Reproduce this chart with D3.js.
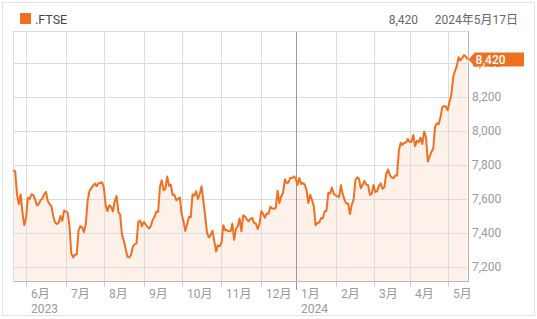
<!DOCTYPE html>
<html><head><meta charset="utf-8">
<script src="https://cdn.jsdelivr.net/npm/d3@7"></script>
<style>
html,body{margin:0;padding:0;background:#fff;}
svg{display:block;font-family:Roboto,"Noto Sans CJK JP",sans-serif;}
</style></head>
<body><svg id="c" width="537" height="319"></svg>
<script>
// Daily closes of .FTSE, one array per month (trading days)
const may23 = [7770, 7763, 7627, 7571, 7627, 7522, 7446];
const jun23 = [7490, 7607, 7600, 7628, 7624, 7599, 7562, 7570, 7594, 7602, 7628, 7643, 7588, 7569, 7559, 7502, 7462, 7453, 7461, 7500, 7472, 7532];
const jul23 = [7527, 7519, 7442, 7280, 7257, 7274, 7274, 7416, 7440, 7434, 7406, 7453, 7588, 7647, 7664, 7679, 7691, 7676, 7693, 7694, 7699];
const aug23 = [7666, 7561, 7529, 7564, 7554, 7527, 7587, 7618, 7524, 7507, 7389, 7357, 7310, 7262, 7257, 7271, 7320, 7333, 7338, 7465, 7474, 7439];
const sep23 = [7465, 7453, 7437, 7426, 7442, 7478, 7496, 7527, 7525, 7673, 7711, 7652, 7660, 7732, 7678, 7684, 7624, 7625, 7593, 7601, 7608];
const oct23 = [7510, 7470, 7412, 7452, 7495, 7492, 7628, 7620, 7645, 7600, 7631, 7675, 7588, 7499, 7402, 7374, 7387, 7414, 7354, 7292, 7328, 7322];
const nov23 = [7342, 7446, 7417, 7418, 7410, 7411, 7455, 7360, 7426, 7440, 7486, 7410, 7504, 7497, 7481, 7469, 7484, 7488, 7460, 7455, 7424, 7453];
const dec23 = [7529, 7513, 7490, 7515, 7514, 7554, 7545, 7543, 7548, 7649, 7576, 7615, 7638, 7716, 7694, 7697, 7725, 7723, 7733];
const jan24 = [7721, 7683, 7724, 7689, 7695, 7684, 7652, 7576, 7625, 7594, 7558, 7446, 7459, 7462, 7488, 7486, 7528, 7530, 7635, 7633, 7667, 7631];
const feb24 = [7622, 7616, 7612, 7681, 7629, 7595, 7573, 7574, 7512, 7568, 7597, 7712, 7728, 7719, 7663, 7685, 7707, 7684, 7683, 7625, 7630];
const mar24 = [7682, 7641, 7646, 7679, 7692, 7660, 7669, 7748, 7773, 7743, 7727, 7723, 7738, 7738, 7882, 7931, 7918, 7931, 7932, 7953];
const apr24 = [7935, 7937, 7976, 7911, 7943, 7934, 7961, 7924, 7996, 7965, 7820, 7848, 7877, 7896, 8024, 8045, 8041, 8079, 8140, 8147, 8144];
const may24 = [8121, 8172, 8213, 8314, 8354, 8381, 8434, 8415, 8428, 8446, 8439, 8420];

const monthSeries = [may23, jun23, jul23, aug23, sep23, oct23, nov23, dec23, jan24, feb24, mar24, apr24, may24];
const monthLabels = ["", "6月", "7月", "8月", "9月", "10月", "11月", "12月", "1月", "2月", "3月", "4月", "5月"];
const yearLabels  = ["", "2023", "", "", "", "", "", "", "2024", "", "", "", ""];
const yTicks = [7200, 7400, 7600, 7800, 8000, 8200, 8400];
const seriesName = ".FTSE";
const lastLabel = "8,420";
const dateLabel = "2024年5月17日";

const closes = [].concat(...monthSeries);
const monthStart = [];
{ let acc = 0; monthSeries.forEach(m => { monthStart.push(acc); acc += m.length; }); }

const orange = "#f07022";
const svg = d3.select("#c");
const L = 13.4, R = 467.6, T = 31, B = 281;

const x = d3.scaleLinear().domain([0, closes.length - 1]).range([L, R]);
const y = d3.scaleLinear().domain([7118, 8588]).range([B, T]);

// outer frame
svg.append("rect").attr("x", 2.5).attr("y", 2.5).attr("width", 532).attr("height", 313)
  .attr("fill", "none").attr("stroke", "#e3e3e3");

// header
svg.append("rect").attr("x", 20).attr("y", 13).attr("width", 11).attr("height", 11).attr("fill", orange);
svg.append("text").attr("x", 35).attr("y", 24).attr("font-size", 12.5).attr("fill", "#444").text(seriesName);
svg.append("text").attr("x", 418).attr("y", 24).attr("text-anchor", "end").attr("font-size", 12).attr("fill", "#666").text(lastLabel);
svg.append("text").attr("x", 518).attr("y", 24).attr("text-anchor", "end").attr("font-size", 12).attr("fill", "#666").text(dateLabel);

// area
svg.append("path").datum(closes)
  .attr("d", d3.area().x((d, i) => x(i)).y0(B).y1(d => y(d)))
  .attr("fill", "#fdf1e9");

// grid
const ticksIdx = monthStart.slice(1);
const g = svg.append("g");
g.selectAll("line.h").data(yTicks).join("line")
  .attr("x1", L).attr("x2", R).attr("y1", d => Math.round(y(d)) + 0.5).attr("y2", d => Math.round(y(d)) + 0.5)
  .attr("stroke", "#dcdcdc");
g.selectAll("line.v").data(ticksIdx).join("line")
  .attr("x1", d => Math.round(x(d)) + 0.5).attr("x2", d => Math.round(x(d)) + 0.5)
  .attr("y1", T).attr("y2", B)
  .attr("stroke", (d, i) => yearLabels[i + 1] === "2024" ? "#9a9a9a" : "#dcdcdc");

// plot border
svg.append("line").attr("x1", L).attr("x2", R).attr("y1", T + 0.5).attr("y2", T + 0.5).attr("stroke", "#dcdcdc");
svg.append("line").attr("x1", Math.round(L) + 0.5).attr("x2", Math.round(L) + 0.5).attr("y1", T).attr("y2", B).attr("stroke", "#dcdcdc");
svg.append("line").attr("x1", Math.round(R) + 0.5).attr("x2", Math.round(R) + 0.5).attr("y1", T).attr("y2", B + 1).attr("stroke", "#b8b8b8");
svg.append("line").attr("x1", L).attr("x2", R + 1).attr("y1", B + 0.5).attr("y2", B + 0.5).attr("stroke", "#b8b8b8");

// x ticks & labels
const xt = svg.append("g");
ticksIdx.forEach((d, i) => {
  const px = Math.round(x(d)) + 0.5;
  const isYear = yearLabels[i + 1] === "2024";
  xt.append("line").attr("x1", px).attr("x2", px).attr("y1", B + 1).attr("y2", B + (isYear ? 9 : 6))
    .attr("stroke", isYear ? "#9a9a9a" : "#cfcfcf");
  xt.append("text").attr("x", px + 4.5).attr("y", 298).attr("font-size", 12).attr("fill", "#9a9a9a").text(monthLabels[i + 1]);
  if (yearLabels[i + 1]) xt.append("text").attr("x", px + 4.5).attr("y", 313).attr("font-size", 12).attr("fill", "#9a9a9a").text(yearLabels[i + 1]);
});

// y labels
svg.append("g").selectAll("text").data(yTicks).join("text")
  .attr("x", 472).attr("y", d => y(d)).attr("dy", "0.36em")
  .attr("font-size", 12).attr("fill", "#9a9a9a")
  .text(d => d3.format(",")(d));

// line
svg.append("path").datum(closes)
  .attr("d", d3.line().x((d, i) => x(i)).y(d => y(d)))
  .attr("fill", "none").attr("stroke", orange).attr("stroke-width", 2).attr("stroke-linejoin", "round");

// last value badge
const ly = y(closes[closes.length - 1]);
svg.append("path")
  .attr("d", `M${R + 1},${ly} L${R + 7},${ly - 7} L524,${ly - 7} L524,${ly + 7} L${R + 7},${ly + 7} Z`)
  .attr("fill", orange);
svg.append("text").attr("x", R + 8).attr("y", ly).attr("dy", "0.36em")
  .attr("font-size", 12).attr("font-weight", 500).attr("fill", "#fff").text(lastLabel);
</script></body></html>
